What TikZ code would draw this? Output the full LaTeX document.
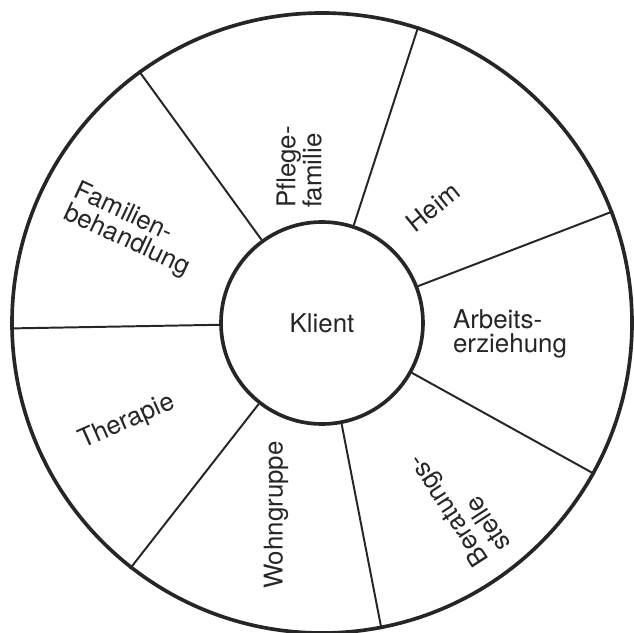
\documentclass[tikz,border=0pt]{standalone}
\usepackage{fontspec}
\setmainfont{TeX Gyre Heros}
\usepackage{tikz}
\usetikzlibrary{positioning, calc}

\begin{document}
\begin{tikzpicture}[
		ring/.style={draw=black!85, line width=2.6pt, circle, inner sep=0pt},
		spoke/.style={draw=black!85, line width=1.4pt},
		sektor/.style={text=black!85, align=left, inner sep=0pt,
			font=\fontsize{18.4pt}{17pt}\selectfont}
	]
	\useasboundingbox (-8.05,-7.75) rectangle (7.775,8.075);

	\node[ring, minimum size=15.5cm] (rand)   at (0, 0)  {};
	\node[ring, minimum size=5.05cm, sektor, align=center] (klient) at (0, 0) {Klient};

	\draw[spoke] (klient.126) -- (rand.126);
	\draw[spoke] (klient.72) -- (rand.72);
	\draw[spoke] (klient.21) -- (rand.21);
	\draw[spoke] (klient.-29) -- (rand.-29);
	\draw[spoke] (klient.-79) -- (rand.-79);
	\draw[spoke] (klient.-128.5) -- (rand.-128.5);
	\draw[spoke] (klient.181) -- (rand.181);

	\node[sektor, rotate=90]  (pflege)   at (-0.575, 3.9)   {Pflege-\\familie};
	\node[sektor, rotate=39]  (heim)     at (2.775, 2.9)    {Heim};
	\node[sektor]             (arbeit)   at (4.7, -0.275)   {Arbeits-\\erziehung};
	\node[sektor, rotate=123] (beratung) at (3.4, -4.525)   {Beratungs-\\stelle};
	\node[sektor, rotate=90]  (wohn)     at (-1.15, -4.8)   {Wohngruppe};
	\node[sektor, rotate=24]  (therapie) at (-4.875, -2.475) {Therapie};
	\node[sektor, rotate=-25] (familie)  at (-4.75, 2.325)  {Familien-\\behandlung};
\end{tikzpicture}
\end{document}
